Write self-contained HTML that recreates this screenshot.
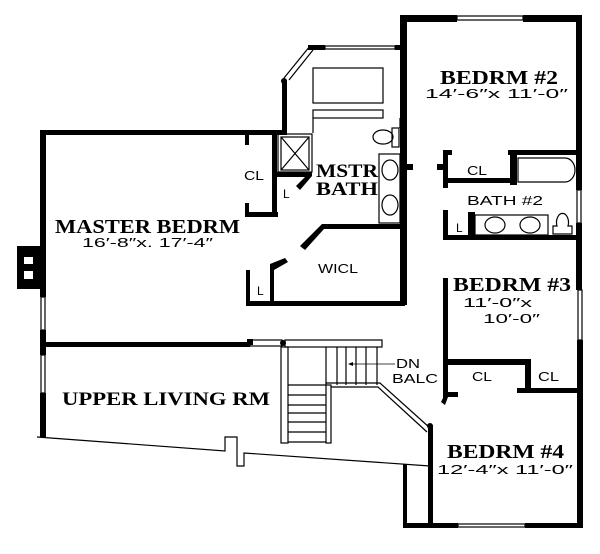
<!DOCTYPE html>
<html><head><meta charset="utf-8"><style>
html,body{margin:0;padding:0;background:#fff;}
svg{display:block;}
.b{font-family:"Liberation Serif",serif;font-weight:bold;fill:#000;}
.s{font-family:"Liberation Sans",sans-serif;fill:#000;}
</style></head><body>
<svg width="600" height="554" viewBox="0 0 600 554" xmlns="http://www.w3.org/2000/svg">
<g fill="#000">
<!-- master top wall -->
<rect x="40" y="130" width="245" height="5"/>
<!-- left wall -->
<rect x="40" y="130" width="6" height="167"/>
<rect x="40" y="330" width="6" height="25"/>
<rect x="40" y="393" width="6" height="44"/>
<!-- fireplace -->
<rect x="17" y="246" width="25" height="43"/>
<!-- master/living wall -->
<rect x="43" y="342" width="207" height="5"/>
<rect x="247" y="339" width="6" height="6"/>
<!-- closet -->
<rect x="245" y="133" width="4" height="12"/>
<rect x="245" y="203" width="4" height="14"/>
<rect x="245" y="212" width="33" height="5"/>
<rect x="272" y="132" width="5" height="85"/>
<!-- bath left wall -->
<rect x="282" y="80" width="5" height="55"/>
<circle cx="284" cy="81" r="3"/>
<polygon points="277,172 312,172 312,176 300,190 296,186 305,177 277,177"/>
<!-- bath top wall -->
<rect x="395" y="45" width="10" height="5"/>
<rect x="308" y="45" width="17" height="5"/>
<!-- bedrm2 -->
<rect x="400" y="15" width="57" height="7"/>
<rect x="523" y="15" width="59" height="7"/>
<rect x="400" y="15" width="7" height="290"/>
<rect x="576" y="15" width="6" height="175"/>
<rect x="576" y="223" width="6" height="67"/>
<rect x="577" y="340" width="6" height="188"/>
<!-- door stubs -->
<rect x="407" y="164" width="6" height="6"/>
<rect x="437" y="164" width="10" height="6"/>
<rect x="443" y="150" width="5" height="38"/>
<rect x="443" y="150" width="9" height="5"/>
<rect x="443" y="178" width="72" height="5"/>
<rect x="510" y="150" width="7" height="35"/>
<rect x="508" y="150" width="72" height="5"/>
<rect x="443" y="210" width="5" height="30"/>
<rect x="468" y="212" width="7" height="25"/>
<rect x="443" y="235" width="139" height="5"/>
<!-- WICL -->
<polygon points="322,224 405,224 405,229 324,229 305,250 300,246"/>
<polygon points="270,264 285,258 288,262 274,270 274,302 270,302"/>
<rect x="246" y="270" width="4" height="36"/>
<rect x="246" y="301" width="159" height="5"/>
<!-- bedrm3 -->
<rect x="443" y="278" width="5" height="117"/>
<polygon points="443,392 458,392 458,397 448,397 445,405 441,402 443,398"/>
<rect x="448" y="359" width="82" height="6"/>
<rect x="525" y="359" width="6" height="34"/>
<rect x="517" y="388" width="66" height="5"/>
<!-- bedrm4 -->
<rect x="428" y="425" width="5" height="103"/>
<circle cx="430" cy="426" r="3"/>
<rect x="403" y="523" width="55" height="5"/>
<rect x="525" y="523" width="58" height="5"/>
<rect x="403" y="464" width="4" height="64"/>
<circle cx="283" cy="343" r="3"/>
</g>
<g fill="#fff">
<rect x="24" y="257" width="9" height="7"/><rect x="24" y="271" width="9" height="8"/>
</g>
<g fill="none" stroke="#000" stroke-width="1.2">
<!-- windows -->
<rect x="110" y="131" width="103" height="3"/>
<rect x="41" y="297" width="4" height="33"/>
<rect x="41" y="355" width="4" height="38"/>
<rect x="325" y="46" width="70" height="3"/>
<rect x="457" y="16" width="66" height="4"/>
<rect x="577" y="190" width="4" height="33"/>
<rect x="578" y="290" width="4" height="50"/>
<rect x="458" y="524" width="67" height="3"/>
<!-- angled bath wall -->
<line x1="284" y1="78" x2="310" y2="46"/>
<line x1="289" y1="80" x2="313" y2="50"/>
<!-- tub/counter -->
<rect x="313" y="68" width="70" height="35"/>
<rect x="313" y="110" width="70" height="8"/>
<line x1="313" y1="118" x2="313" y2="133"/>
<line x1="400" y1="118" x2="400" y2="128"/>
<!-- shower -->
<rect x="278" y="134" width="34" height="38"/>
<rect x="281" y="137" width="28" height="33"/>
<line x1="281" y1="137" x2="309" y2="170"/><line x1="309" y1="137" x2="281" y2="170"/>
<!-- toilet mstr -->
<rect x="392" y="128" width="7" height="19"/>
<ellipse cx="383" cy="137" rx="10" ry="7"/>
<!-- vanity mstr -->
<rect x="379" y="154" width="21" height="69"/>
<ellipse cx="390" cy="170" rx="8" ry="10"/><ellipse cx="390" cy="205" rx="8" ry="10"/>
<!-- bath2 tub -->
<path d="M518,158 H565 A10,12 0 0 1 565,182 H518 Z"/>
<rect x="475" y="215" width="73" height="20"/>
<ellipse cx="495" cy="225" rx="10" ry="8"/><ellipse cx="530" cy="225" rx="10" ry="8"/>
<path d="M553,234 V226 H557 A6,9 0 1 1 568,226 H572 V234 Z"/>
<!-- railing -->
<rect x="250" y="340" width="32" height="6"/>
<rect x="285" y="340" width="97" height="7"/>
<!-- stairs -->
<rect x="281" y="347" width="7" height="96"/>
<rect x="326" y="385" width="5" height="58"/>
<line x1="326" y1="347" x2="326" y2="385"/>
<line x1="337" y1="347" x2="337" y2="385"/>
<line x1="346" y1="347" x2="346" y2="385"/>
<line x1="356" y1="347" x2="356" y2="385"/>
<line x1="366" y1="347" x2="366" y2="385"/>
<line x1="377" y1="347" x2="377" y2="385"/>
<line x1="288" y1="385" x2="326" y2="385"/>
<line x1="288" y1="395" x2="326" y2="395"/>
<line x1="288" y1="405" x2="326" y2="405"/>
<line x1="288" y1="413" x2="326" y2="413"/>
<line x1="288" y1="422" x2="326" y2="422"/>
<line x1="288" y1="432" x2="326" y2="432"/>
<line x1="288" y1="442" x2="326" y2="442"/>
<!-- balcony -->
<polyline points="326,384 326,383 380,383 430,428"/>
<polyline points="331,387 378,387 427,432"/>
<!-- DN arrow -->
<line x1="349" y1="364" x2="395" y2="364" stroke-width="0.8"/>
<!-- living bottom -->
<polyline points="37,437 225,451 225,437 237,437 237,466 244,466 244,453 430,466"/>
</g>
<path d="M348,364 l5,-2 v4 z" fill="#000"/>
<!-- labels -->
<text class="b" x="55" y="233" font-size="20" textLength="185" lengthAdjust="spacingAndGlyphs">MASTER BEDRM</text>
<text class="s" x="82" y="247" font-size="13" textLength="131" lengthAdjust="spacingAndGlyphs">16′-8″x. 17′-4″</text>
<text class="s" x="244" y="180" font-size="13" textLength="20" lengthAdjust="spacingAndGlyphs">CL</text>
<text class="s" x="283" y="198" font-size="12">L</text>
<text class="b" x="316" y="177" font-size="19" textLength="62" lengthAdjust="spacingAndGlyphs">MSTR</text>
<text class="b" x="316" y="195" font-size="19" textLength="62" lengthAdjust="spacingAndGlyphs">BATH</text>
<text class="s" x="318" y="273" font-size="13" textLength="40" lengthAdjust="spacingAndGlyphs">WICL</text>
<text class="s" x="257" y="295" font-size="12">L</text>
<text class="b" x="440" y="84" font-size="20" textLength="118" lengthAdjust="spacingAndGlyphs">BEDRM #2</text>
<text class="s" x="425" y="98" font-size="13" textLength="143" lengthAdjust="spacingAndGlyphs">14′-6″x 11′-0″</text>
<text class="s" x="467" y="175" font-size="13" textLength="20" lengthAdjust="spacingAndGlyphs">CL</text>
<text class="s" x="467" y="205" font-size="13" textLength="76" lengthAdjust="spacingAndGlyphs">BATH #2</text>
<text class="s" x="456" y="232" font-size="12">L</text>
<text class="b" x="453" y="291" font-size="20" textLength="118" lengthAdjust="spacingAndGlyphs">BEDRM #3</text>
<text class="s" x="463" y="307" font-size="13" textLength="69" lengthAdjust="spacingAndGlyphs">11′-0″x</text>
<text class="s" x="483" y="323" font-size="13" textLength="57" lengthAdjust="spacingAndGlyphs">10′-0″</text>
<text class="s" x="472" y="381" font-size="13" textLength="20" lengthAdjust="spacingAndGlyphs">CL</text>
<text class="s" x="538" y="381" font-size="13" textLength="21" lengthAdjust="spacingAndGlyphs">CL</text>
<text class="s" x="396" y="368" font-size="13" textLength="24" lengthAdjust="spacingAndGlyphs">DN</text>
<text class="s" x="392" y="383" font-size="13" textLength="46" lengthAdjust="spacingAndGlyphs">BALC</text>
<text class="b" x="62" y="405" font-size="19" textLength="208" lengthAdjust="spacingAndGlyphs">UPPER LIVING RM</text>
<text class="b" x="447" y="458" font-size="20" textLength="117" lengthAdjust="spacingAndGlyphs">BEDRM #4</text>
<text class="s" x="437" y="474" font-size="13" textLength="136" lengthAdjust="spacingAndGlyphs">12′-4″x 11′-0″</text>
</svg>
</body></html>
